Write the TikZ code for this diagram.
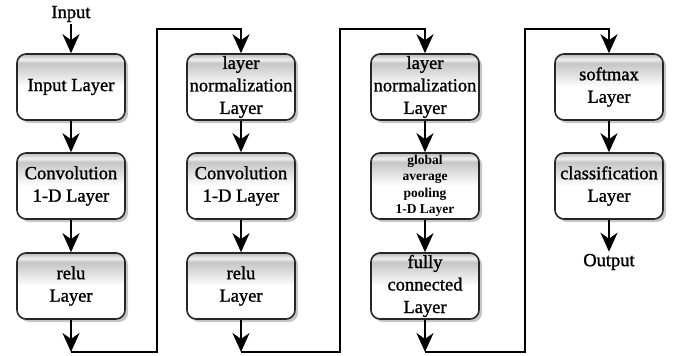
\documentclass[tikz,border=0pt]{standalone}
\usepackage{fontspec}
\setmainfont{Liberation Serif}
\newfontfamily\heavyserif{Liberation Serif}[FakeBold=1.2]
\usetikzlibrary{arrows.meta,shadows}
\pgfdeclareverticalshading{boxshade}{100bp}{color(0bp)=(white); color(50bp)=(white); color(62bp)=(gray!30); color(68bp)=(gray!45); color(71bp)=(gray!12); color(73bp)=(gray!35); color(75bp)=(gray!55); color(100bp)=(gray!55)}
\begin{document}
\begin{tikzpicture}[x=1pt,y=-1pt,
  layerbox/.style={rectangle, rounded corners=9pt, draw=black!85, line width=1.6pt,
    shading=boxshade, minimum width=108pt, minimum height=66pt, inner sep=0pt,
    align=center, font=\heavyserif\fontsize{18.5}{22.5}\selectfont,
    drop shadow={shadow xshift=3pt, shadow yshift=-3pt, fill=black!45}},
  smallbold/.style={font=\bfseries\fontsize{13.5}{16.5}\selectfont},
  label/.style={font=\heavyserif\fontsize{18.5}{22.5}\selectfont, inner sep=2pt},
  arr/.style={line width=2.6pt, -{Stealth[length=19pt,width=17pt,inset=6pt]}},
  wire/.style={line width=2.6pt}]
\useasboundingbox (0,0) rectangle (673,356);

\node[layerbox] (inl) at (71,87) {Input Layer};
\node[layerbox] (cv1) at (71,186) {Convolution\\1-D Layer};
\node[layerbox] (re1) at (71,286) {relu\\Layer};

\node[layerbox] (ln1) at (241,87) {layer\\normalization\\Layer};
\node[layerbox] (cv2) at (241,186) {Convolution\\1-D Layer};
\node[layerbox] (re2) at (241,286) {relu\\Layer};

\node[layerbox] (ln2) at (425,87) {layer\\normalization\\Layer};
\node[layerbox, smallbold] (gap) at (425,186) {global\\average\\pooling\\1-D Layer};
\node[layerbox] (fc) at (425,286) {fully\\connected\\Layer};

\node[layerbox] (sm) at (609,87) {softmax\\Layer};
\node[layerbox] (cl) at (609,186) {classification\\Layer};

\node[label] (in) at (71,14) {Input};
\node[label] (out) at (609,262) {Output};

\coordinate (b1) at (71,352);
\coordinate (b2) at (241,352);
\coordinate (b3) at (425,352);
\coordinate (t1) at (157,29);
\coordinate (t2) at (340,29);
\coordinate (t3) at (525,29);

\draw[arr] (in) -- (inl);
\draw[arr] (inl) -- (cv1);
\draw[arr] (cv1) -- (re1);
\draw[arr] (re1) -- (b1);
\draw[arr] (b1) -| (t1) -| (ln1);

\draw[arr] (ln1) -- (cv2);
\draw[arr] (cv2) -- (re2);
\draw[arr] (re2) -- (b2);
\draw[arr] (b2) -| (t2) -| (ln2);

\draw[arr] (ln2) -- (gap);
\draw[arr] (gap) -- (fc);
\draw[arr] (fc) -- (b3);
\draw[arr] (b3) -| (t3) -| (sm);

\draw[arr] (sm) -- (cl);
\draw[arr] (cl) -- (out);
\end{tikzpicture}
\end{document}
